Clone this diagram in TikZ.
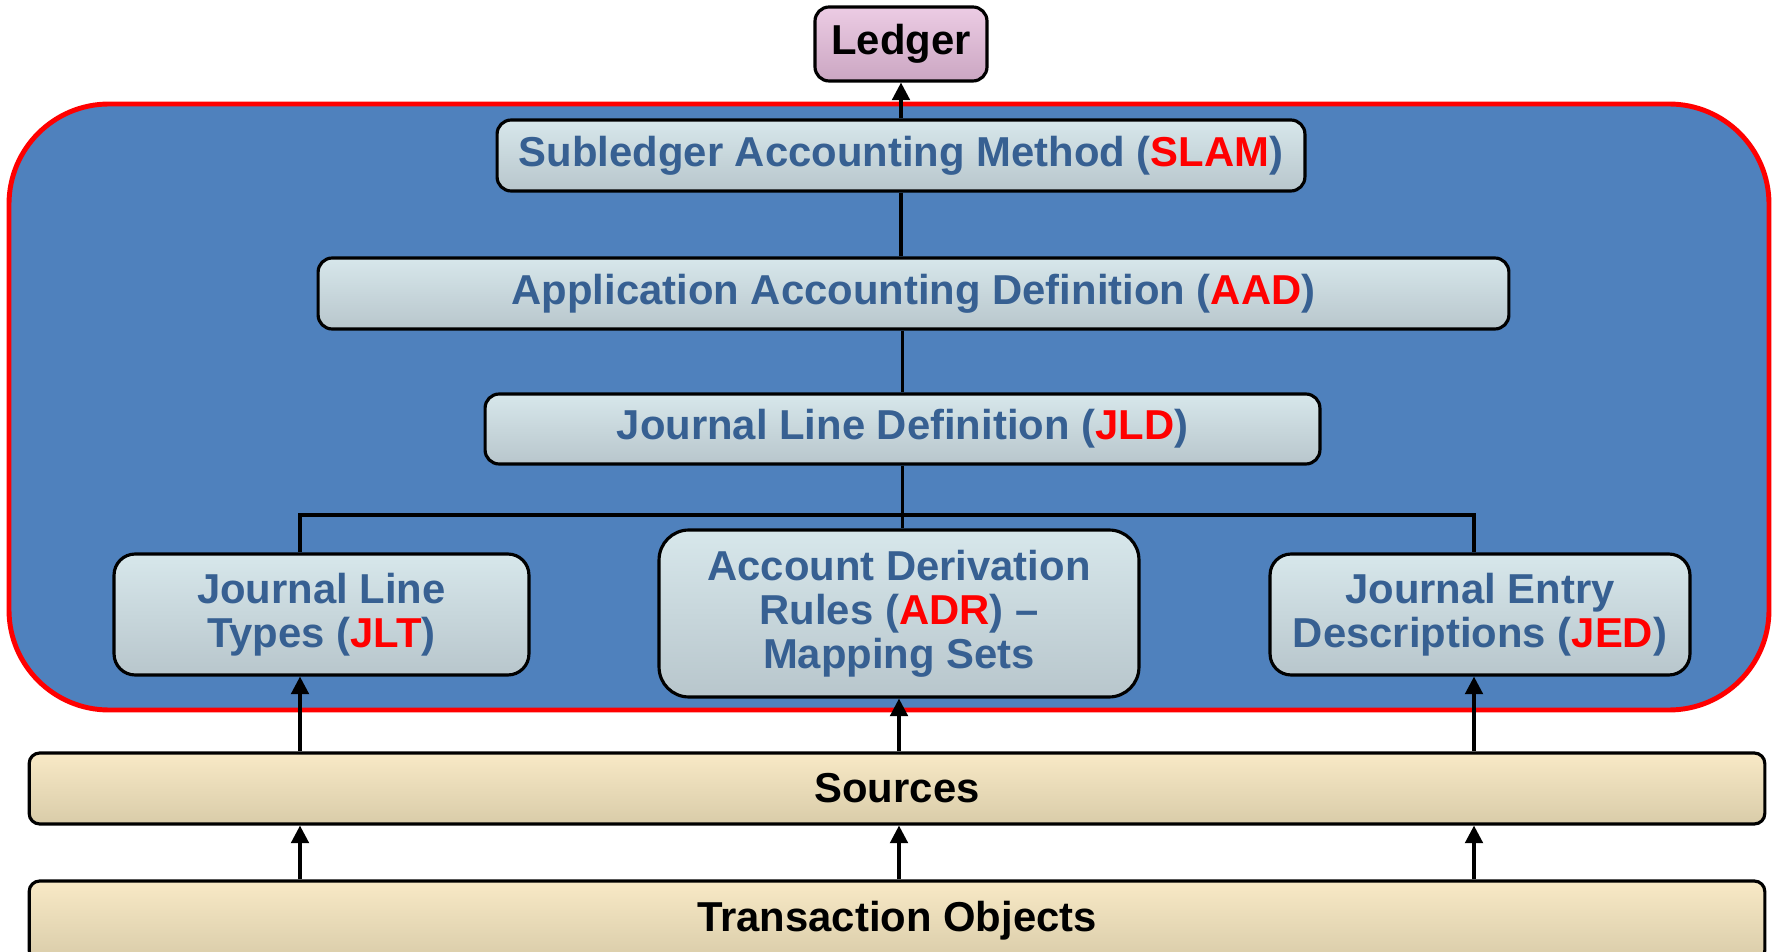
\documentclass[tikz,border=0pt]{standalone}
\usepackage{fontspec}
\setmainfont{Liberation Sans}
\usetikzlibrary{arrows.meta}

\definecolor{panelblue}{HTML}{4F81BD}
\definecolor{textblue}{HTML}{376092}
\definecolor{boxtop}{HTML}{D7E7EB}
\definecolor{boxbot}{HTML}{B8C6CC}
\definecolor{tantop}{HTML}{F8E9C6}
\definecolor{tanbot}{HTML}{D9CCA9}
\definecolor{ledgertop}{HTML}{ECCCE4}
\definecolor{ledgerbot}{HTML}{CBA6C2}
\newcommand{\redtxt}[1]{\textcolor{red}{#1}}

\tikzset{
  box/.style={draw=black, line width=1.8pt, rounded corners=8pt,
    top color=boxtop, bottom color=boxbot, text=textblue, align=center,
    inner sep=0pt, font=\bfseries\fontsize{23.8}{25}\selectfont},
  tanbox/.style={box, rounded corners=6pt, top color=tantop, bottom color=tanbot, text=black},
  link/.style={line width=1.9pt},
  uparrow/.style={link, -{Triangle[length=10pt,width=10pt]}}
}

\begin{document}
\begin{tikzpicture}[x=0.02cm,y=-0.02cm]
  \useasboundingbox (0,0) rectangle (1772,952);

  % framework panel
  \draw[draw=red, line width=2.8pt, fill=panelblue, rounded corners=2cm]
    (9,104) rectangle (1769,710);

  \node[box, top color=ledgertop, bottom color=ledgerbot, text=black,
        minimum width=3.44cm, minimum height=1.48cm] (ledger) at (901,44) {Ledger};
  \node[box, minimum width=16.16cm, minimum height=1.42cm] (slam) at (901,155.5)
    {Subledger Accounting Method (\redtxt{SLAM})};
  \node[box, minimum width=23.82cm, minimum height=1.42cm] (aad) at (913.5,293.5)
    {Application Accounting Definition (\redtxt{AAD})};
  \node[box, minimum width=16.7cm, minimum height=1.4cm] (jld) at (902.5,429)
    {Journal Line Definition (\redtxt{JLD})};

  \node[box, rounded corners=12pt, minimum width=8.3cm, minimum height=2.42cm] (jlt) at (321.5,614.5)
    {Journal Line\\Types (\redtxt{JLT})};
  \node[box, rounded corners=17pt, minimum width=9.6cm, minimum height=3.34cm] (adr) at (899,613.5)
    {Account Derivation\\Rules (\redtxt{ADR}) --\\Mapping Sets};
  \node[box, rounded corners=12pt, minimum width=8.4cm, minimum height=2.42cm] (jed) at (1480,614.5)
    {Journal Entry\\Descriptions (\redtxt{JED})};

  \node[tanbox, minimum width=34.72cm, minimum height=1.42cm] (sources) at (897,788.5) {Sources};
  \node[tanbox, minimum width=34.72cm, minimum height=1.6cm] (trans) at (897,921) {Transaction Objects};

  \coordinate (busL) at (300,515);
  \coordinate (busR) at (1474,515);

  % tree inside the panel
  \draw[uparrow] (slam.north) -- (ledger.south);
  \draw[link] (slam.south) -- (slam.south |- aad.north);
  \draw[link] (jld.north) -- (jld.north |- aad.south);
  \draw[link] (jld.south) -- (jld.south |- adr.north);
  \draw[link] (busL |- jlt.north) -- (busL) -- (busR) -- (busR |- jed.north);

  % inputs
  \draw[uparrow] (sources.north -| busL) -- (busL |- jlt.south);
  \draw[uparrow] (sources.north -| adr.south) -- (adr.south);
  \draw[uparrow] (sources.north -| busR) -- (busR |- jed.south);
  \draw[uparrow] (trans.north -| busL) -- (busL |- sources.south);
  \draw[uparrow] (trans.north -| adr.south) -- (adr.south |- sources.south);
  \draw[uparrow] (trans.north -| busR) -- (busR |- sources.south);
\end{tikzpicture}
\end{document}
